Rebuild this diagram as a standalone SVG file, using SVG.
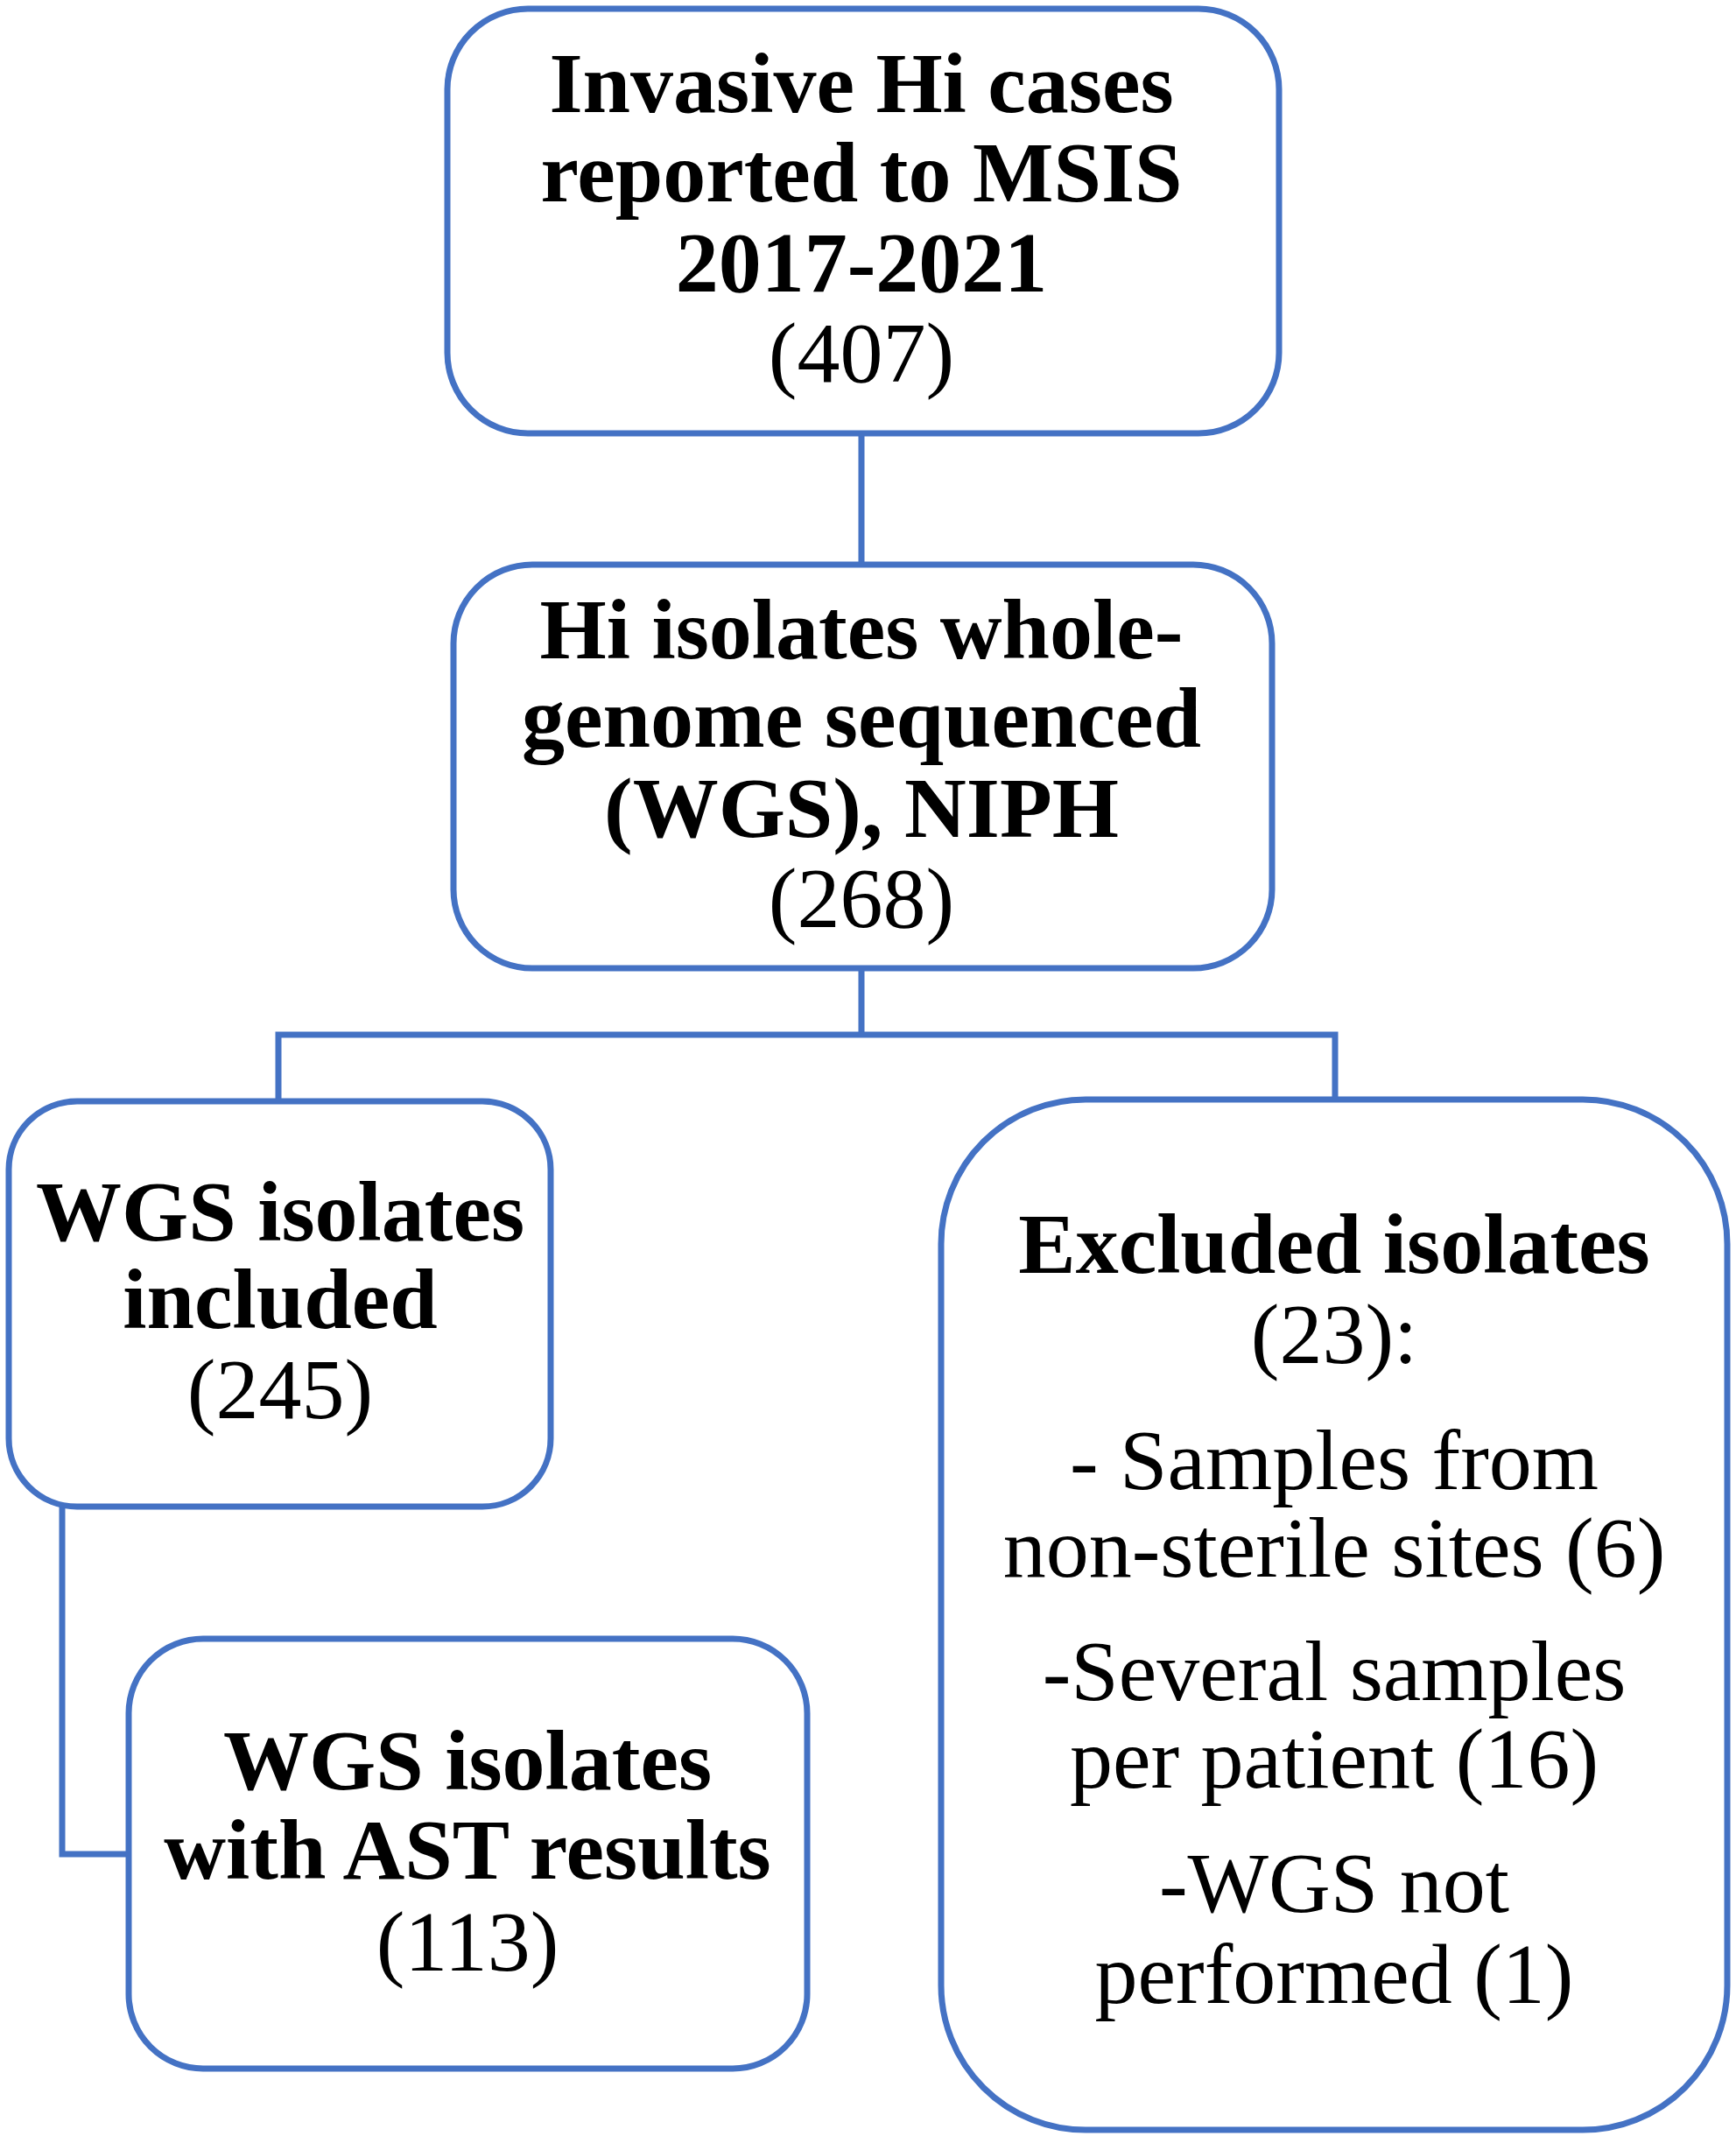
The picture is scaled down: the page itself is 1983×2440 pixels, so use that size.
<svg xmlns="http://www.w3.org/2000/svg" width="1983" height="2440" viewBox="0 0 1983 2440">
<style>
.box{fill:#fff;stroke:#4472C4;stroke-width:7}
.con{fill:none;stroke:#4472C4;stroke-width:7}
text{font-family:"Liberation Serif","Times New Roman",serif;font-size:98px;fill:#000;text-anchor:middle}
.b{font-weight:bold}
</style>
<rect width="1983" height="2440" fill="#fff"/>
<g id="connectors">
<path class="con" d="M984 495V645"/>
<path class="con" d="M984 1106V1182H318V1258M984 1182H1525V1256"/>
<path class="con" d="M71 1721V2118H147"/>
</g>
<g id="n1">
<rect class="box" x="511" y="10" width="950" height="485" rx="92"/>
<text class="b" x="984" y="128">Invasive Hi cases</text>
<text class="b" x="984" y="230">reported to MSIS</text>
<text class="b" x="984" y="333">2017-2021</text>
<text x="984" y="436">(407)</text>
</g>
<g id="n2">
<rect class="box" x="518" y="645" width="935" height="461" rx="90"/>
<text class="b" x="984" y="752">Hi isolates whole-</text>
<text class="b" x="984" y="853">genome sequenced</text>
<text class="b" x="984" y="956">(WGS), NIPH</text>
<text x="984" y="1059">(268)</text>
</g>
<g id="n3">
<rect class="box" x="10" y="1258" width="619" height="463" rx="78"/>
<text class="b" x="320" y="1417">WGS isolates</text>
<text class="b" x="320" y="1517">included</text>
<text x="320" y="1620">(245)</text>
</g>
<g id="n4">
<rect class="box" x="147" y="1872" width="775" height="491" rx="85"/>
<text class="b" x="534" y="2044">WGS isolates</text>
<text class="b" x="534" y="2146">with AST results</text>
<text x="534" y="2251">(113)</text>
</g>
<g id="n5">
<rect class="box" x="1075" y="1256" width="898" height="1177" rx="165"/>
<text class="b" x="1524" y="1454">Excluded isolates</text>
<text x="1524" y="1557">(23):</text>
<text x="1524" y="1701">- Samples from</text>
<text x="1524" y="1801">non-sterile sites (6)</text>
<text x="1524" y="1942">-Several samples</text>
<text x="1524" y="2042">per patient (16)</text>
<text x="1524" y="2184">-WGS not</text>
<text x="1524" y="2288">performed (1)</text>
</g>
</svg>
